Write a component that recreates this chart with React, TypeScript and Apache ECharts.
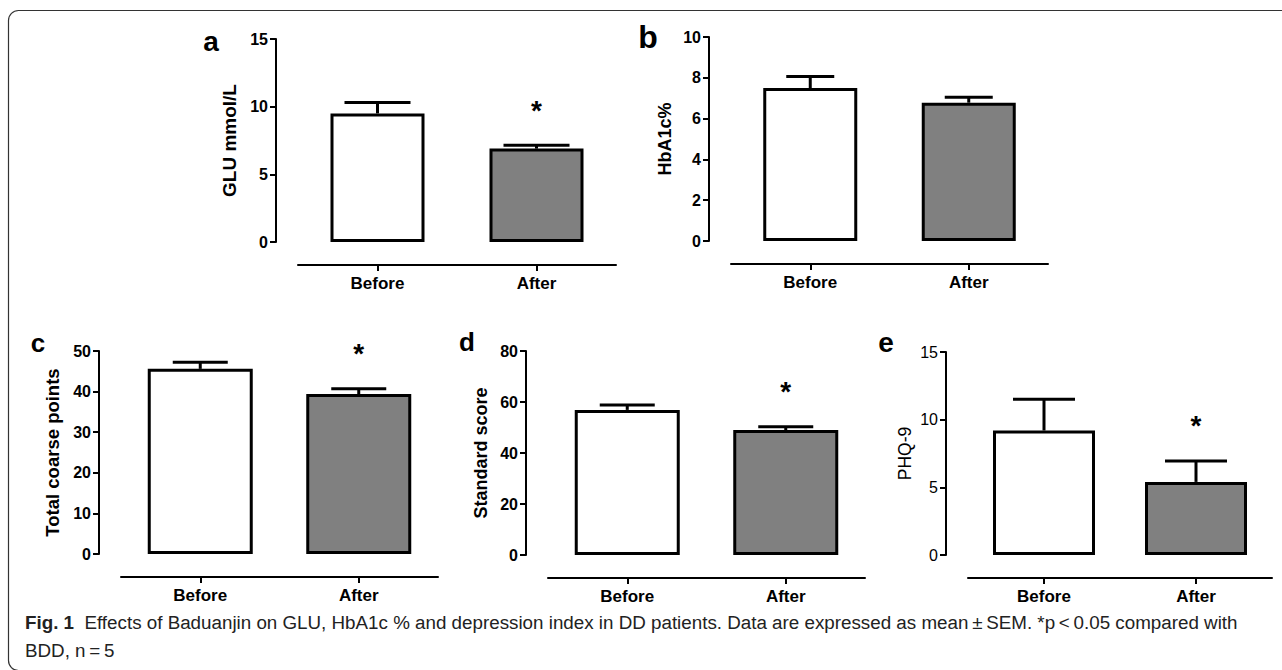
import React, { useEffect, useRef } from "react";
import * as echarts from "echarts";

// ---- data ----
const categories = ["Before", "After"];

const gluMean = [9.5, 6.9];
const gluSem = [0.8, 0.25];
const gluSig = [false, true];

const hba1cMean = [7.5, 6.78];
const hba1cSem = [0.56, 0.27];
const hba1cSig = [false, false];

const coarseMean = [45.6, 39.4];
const coarseSem = [1.6, 1.3];
const coarseSig = [false, true];

const standardMean = [56.9, 49.0];
const standardSem = [1.9, 1.3];
const standardSig = [false, true];

const phqMean = [9.2, 5.4];
const phqSem = [2.3, 1.55];
const phqSig = [false, true];

const captionLine1 =
  "Effects of Baduanjin on GLU, HbA1c % and depression index in DD patients. Data are expressed as mean\u2009\u00b1\u2009SEM. *p\u2009<\u20090.05 compared with";
const captionLine2 = "BDD, n\u2009=\u20095";

const FONT = "'Liberation Sans', Arial, sans-serif";

type Panel = {
  letter: string;
  name: string;
  mean: number[];
  sem: number[];
  sig: boolean[];
  min: number;
  max: number;
  interval: number;
  left: number;
  top: number;
  width: number;
  height: number;
  barWidth: number;
  capWidth: number;
  nameGap: number;
  nameSize: number;
  bold: boolean;
  letterX: number;
  letterY: number;
  letterSize: number;
};

const panels: Panel[] = [
  { letter: "a", name: "GLU mmol/L", mean: gluMean, sem: gluSem, sig: gluSig, min: 0, max: 15, interval: 5,
    left: 298, top: 39, width: 318, height: 203, barWidth: 94, capWidth: 66, nameGap: 37, nameSize: 19, bold: true,
    letterX: 211, letterY: 41, letterSize: 28 },
  { letter: "b", name: "HbA1c%", mean: hba1cMean, sem: hba1cSem, sig: hba1cSig, min: 0, max: 10, interval: 2,
    left: 731, top: 37, width: 317, height: 204, barWidth: 94, capWidth: 48, nameGap: 35, nameSize: 18, bold: true,
    letterX: 648, letterY: 37, letterSize: 32 },
  { letter: "c", name: "Total coarse points", mean: coarseMean, sem: coarseSem, sig: coarseSig, min: 0, max: 50, interval: 10,
    left: 121, top: 351, width: 317, height: 203, barWidth: 105, capWidth: 55, nameGap: 37, nameSize: 18.5, bold: true,
    letterX: 38, letterY: 343, letterSize: 26 },
  { letter: "d", name: "Standard score", mean: standardMean, sem: standardSem, sig: standardSig, min: 0, max: 80, interval: 20,
    left: 548, top: 351, width: 317, height: 204, barWidth: 105, capWidth: 55, nameGap: 36, nameSize: 18, bold: true,
    letterX: 467, letterY: 342, letterSize: 26 },
  { letter: "e", name: "PHQ-9", mean: phqMean, sem: phqSem, sig: phqSig, min: 0, max: 15, interval: 5,
    left: 968, top: 352, width: 304, height: 203, barWidth: 102, capWidth: 62, nameGap: 32, nameSize: 17.5, bold: false,
    letterX: 886, letterY: 342, letterSize: 28 },
];

function buildOption() {
  const grid: any[] = [];
  const xAxis: any[] = [];
  const yAxis: any[] = [];
  const series: any[] = [];
  const graphic: any[] = [];

  panels.forEach((p, i) => {
    grid.push({ left: p.left, top: p.top, width: p.width, height: p.height, containLabel: false });
    xAxis.push({
      gridIndex: i,
      type: "category",
      data: categories,
      offset: 23,
      axisLine: { show: true, onZero: false, lineStyle: { color: "#000", width: 2 } },
      axisTick: { show: true, alignWithLabel: true, length: 6, lineStyle: { color: "#000", width: 2 } },
      axisLabel: { color: "#000", fontSize: 17, fontWeight: "bold", fontFamily: FONT, margin: 10 },
      splitLine: { show: false },
    });
    yAxis.push({
      gridIndex: i,
      type: "value",
      min: p.min,
      max: p.max,
      interval: p.interval,
      offset: 22,
      name: p.name,
      nameLocation: "middle",
      nameGap: p.nameGap,
      nameTextStyle: {
        color: "#000",
        fontSize: p.nameSize,
        fontWeight: p.bold ? "bold" : "normal",
        fontFamily: FONT,
      },
      axisLine: { show: true, onZero: false, lineStyle: { color: "#000", width: 2 } },
      axisTick: { show: true, length: 6, lineStyle: { color: "#000", width: 2 } },
      axisLabel: {
        color: "#000",
        fontSize: 16,
        fontWeight: p.bold ? "bold" : "normal",
        fontFamily: FONT,
        margin: 8,
      },
      splitLine: { show: false },
    });
    series.push({
      type: "bar",
      xAxisIndex: i,
      yAxisIndex: i,
      barWidth: p.barWidth,
      data: p.mean.map((v, j) => ({
        value: v,
        itemStyle: { color: j === 0 ? "#ffffff" : "#808080" },
      })),
      itemStyle: { borderColor: "#000", borderWidth: 3 },
      silent: true,
      z: 2,
    });
    const cap = p.capWidth;
    series.push({
      type: "custom",
      xAxisIndex: i,
      yAxisIndex: i,
      data: p.mean.map((m, j) => [j, m, m + p.sem[j], p.sig[j] ? 1 : 0]),
      encode: { x: 0, y: [1, 2] },
      z: 3,
      silent: true,
      renderItem: (params: any, api: any) => {
        const j = api.value(0);
        const top = api.coord([j, api.value(1)]);
        const e = api.coord([j, api.value(2)]);
        const children: any[] = [
          {
            type: "line",
            shape: { x1: top[0], y1: top[1], x2: e[0], y2: e[1] },
            style: { stroke: "#000", lineWidth: 3 },
          },
          {
            type: "line",
            shape: { x1: e[0] - cap / 2, y1: e[1], x2: e[0] + cap / 2, y2: e[1] },
            style: { stroke: "#000", lineWidth: 3 },
          },
        ];
        if (api.value(3) === 1) {
          children.push({
            type: "text",
            x: e[0],
            y: e[1] - 35,
            style: {
              text: "*",
              fill: "#000",
              font: `bold 28px ${FONT}`,
              align: "center",
              verticalAlign: "middle",
            },
          });
        }
        return { type: "group", children };
      },
    });
    graphic.push({
      type: "text",
      x: p.letterX,
      y: p.letterY,
      style: {
        text: p.letter,
        fill: "#000",
        font: `bold ${p.letterSize}px ${FONT}`,
        align: "center",
        verticalAlign: "middle",
      },
    });
  });

  // frame
  graphic.push({
    type: "rect",
    shape: { x: 8.5, y: 10.5, width: 1320, height: 660, r: 10 },
    style: { fill: "none", stroke: "#333", lineWidth: 1.2 },
    silent: true,
  });

  // caption
  graphic.push({
    type: "text",
    x: 25,
    y: 632,
    style: {
      text: "{b|Fig. 1}  " + captionLine1,
      fill: "#222",
      font: `18.8px ${FONT}`,
      verticalAlign: "bottom",
      align: "left",
      rich: {
        b: { fontWeight: "bold", fontSize: 18.8, fontFamily: FONT, fill: "#222" },
      },
    },
  });
  graphic.push({
    type: "text",
    x: 25,
    y: 660,
    style: {
      text: captionLine2,
      fill: "#222",
      font: `18.8px ${FONT}`,
      verticalAlign: "bottom",
      align: "left",
    },
  });

  return {
    animation: false,
    backgroundColor: "#fff",
    grid,
    xAxis,
    yAxis,
    series,
    graphic,
  };
}

export default function App() {
  const ref = useRef<HTMLDivElement>(null);
  useEffect(() => {
    if (!ref.current) return;
    const chart = echarts.init(ref.current, null, { renderer: "svg" });
    chart.setOption(buildOption() as any);
    return () => chart.dispose();
  }, []);
  return (
    <div
      ref={ref}
      style={{ position: "fixed", left: 0, top: 0, width: 1282, height: 670, background: "#fff" }}
    />
  );
}
